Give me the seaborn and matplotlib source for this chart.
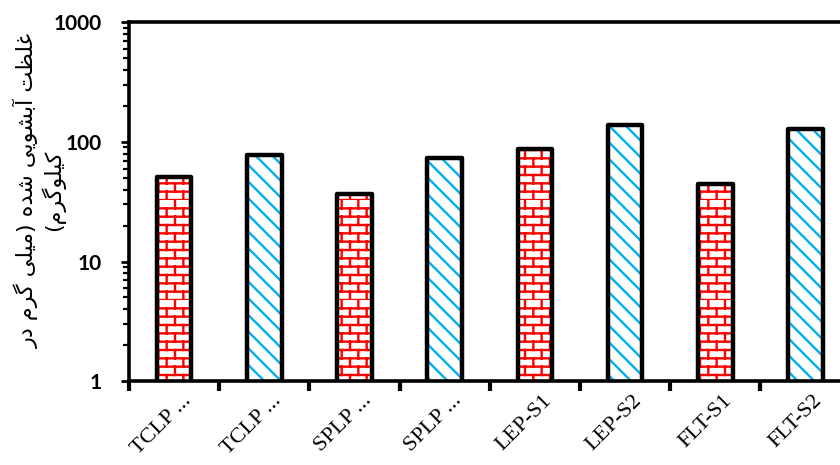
import numpy as np
import pandas as pd
import matplotlib
matplotlib.use("Agg")
import matplotlib.pyplot as plt
import matplotlib.hatch as mhatch
from matplotlib.path import Path
from matplotlib.transforms import ScaledTranslation
import seaborn as sns

# ---- data -------------------------------------------------------------
samples = ["TCLP ...", "TCLP ...", "SPLP ...", "SPLP ...",
           "LEP-S1", "LEP-S2", "FLT-S1", "FLT-S2"]
sample_ids = ["TCLP-1", "TCLP-2", "SPLP-1", "SPLP-2",
              "LEP-S1", "LEP-S2", "FLT-S1", "FLT-S2"]
concentration = [51, 78, 37, 74, 87, 139, 44.5, 128]
series = ["S1", "S2", "S1", "S2", "S1", "S2", "S1", "S2"]
y_ticks = [1, 10, 100, 1000]
y_label = "غلظت آبشویی شده (میلی گرم در\nکیلوگرم)"

# ---- brick hatch (rows of staggered bricks) ----------------------------
_orig_get_path = mhatch.get_path


def _brick_path(rows=12, cols=6):
    verts, codes = [], []
    h = 1.0 / rows
    w = 1.0 / cols
    for r in range(rows):
        y0 = r * h
        verts += [(0.0, y0), (1.0, y0)]
        codes += [Path.MOVETO, Path.LINETO]
        shift = 0.0 if r % 2 == 0 else w / 2
        for c in range(cols):
            x = shift + c * w
            verts += [(x, y0), (x, y0 + h)]
            codes += [Path.MOVETO, Path.LINETO]
    return Path(np.array(verts), np.array(codes, dtype=Path.code_type))


def _get_path(hatchpattern, density=6):
    if hatchpattern == "+":
        return _brick_path()
    return _orig_get_path(hatchpattern, density)


mhatch.get_path = _get_path


# ---- minimal Persian shaping for the axis title -----------------------
FORMS = {
    "ا": ("\uFE8D", "\uFE8E", None, None),
    "آ": ("\uFE81", "\uFE82", None, None),
    "ب": ("\uFE8F", "\uFE90", "\uFE91", "\uFE92"),
    "ت": ("\uFE95", "\uFE96", "\uFE97", "\uFE98"),
    "د": ("\uFEA9", "\uFEAA", None, None),
    "ر": ("\uFEAD", "\uFEAE", None, None),
    "ش": ("\uFEB5", "\uFEB6", "\uFEB7", "\uFEB8"),
    "ظ": ("\uFEC5", "\uFEC6", "\uFEC7", "\uFEC8"),
    "غ": ("\uFECD", "\uFECE", "\uFECF", "\uFED0"),
    "ل": ("\uFEDD", "\uFEDE", "\uFEDF", "\uFEE0"),
    "م": ("\uFEE1", "\uFEE2", "\uFEE3", "\uFEE4"),
    "ه": ("\uFEE9", "\uFEEA", "\uFEEB", "\uFEEC"),
    "و": ("\uFEED", "\uFEEE", None, None),
    "ک": ("\uFB8E", "\uFB8F", "\uFB90", "\uFB91"),
    "گ": ("\uFB92", "\uFB93", "\uFB94", "\uFB95"),
    "ی": ("\uFBFC", "\uFBFD", "\uFBFE", "\uFBFF"),
}
MIRROR = {"(": ")", ")": "("}


def shape_line(s):
    out = []
    for i, ch in enumerate(s):
        if ch not in FORMS:
            out.append(ch)
            continue
        iso, fin, ini, med = FORMS[ch]
        prev = s[i - 1] if i > 0 else ""
        nxt = s[i + 1] if i + 1 < len(s) else ""
        join_prev = prev in FORMS and FORMS[prev][2] is not None
        join_next = ini is not None and nxt in FORMS
        if join_prev and join_next:
            out.append(med)
        elif join_prev:
            out.append(fin)
        elif join_next:
            out.append(ini)
        else:
            out.append(iso)
    return "".join(MIRROR.get(c, c) for c in reversed(out))


def shape_rtl(text):
    return "\n".join(shape_line(line) for line in text.split("\n"))


# ---- figure -----------------------------------------------------------
sns.set_theme(style="ticks")
plt.rcParams["font.family"] = ["DejaVu Sans"]
plt.rcParams["hatch.linewidth"] = 1.7

fig = plt.figure(figsize=(8.4, 4.65), dpi=100)
ax = fig.add_axes([129 / 840, 84 / 465, 721.6 / 840, 358.5 / 465])

df = pd.DataFrame({"sample": sample_ids, "conc": concentration,
                   "series": series})

hatch_style = {"S1": ("+", "#FF0000"), "S2": ("\\\\", "#00B0F0")}

# hatched fill layer
sns.barplot(data=df, x="sample", y="conc", color="white", width=0.385,
            linewidth=0, saturation=1, log_scale=(False, True), ax=ax,
            zorder=2)
for patch, s in zip(ax.patches, series):
    h, c = hatch_style[s]
    patch.set_facecolor("white")
    patch.set_edgecolor(c)
    patch.set_linewidth(0)
    patch.set_hatch(h)
n_fill = len(ax.patches)

# black outline layer
sns.barplot(data=df, x="sample", y="conc", color="black", fill=False,
            width=0.385, linewidth=3.2, saturation=1, ax=ax, zorder=3)
for patch in ax.patches[n_fill:]:
    patch.set_edgecolor("black")
    patch.set_facecolor("none")
    patch.set_joinstyle("round")

ax.set_yscale("log")
ax.set_ylim(1, 1000)
ax.set_xlim(-0.5, len(samples) - 0.5)
ax.set_yticks(y_ticks)
ax.set_yticklabels([str(v) for v in y_ticks])
ax.set_xlabel("")
ax.set_ylabel("")

for sp in ax.spines.values():
    sp.set_visible(True)
    sp.set_linewidth(2.6)
    sp.set_color("black")
    sp.set_zorder(5)

ax.tick_params(axis="y", which="major", direction="out", length=6,
               width=2, color="black", pad=14)
ax.tick_params(axis="y", which="minor", direction="out", length=4,
               width=1.6, color="black")
for lab in ax.get_yticklabels():
    lab.set_fontfamily("Lato")
    lab.set_fontweight("bold")
    lab.set_fontsize(15)
    lab.set_color("black")

# category boundary ticks on the x axis
ax.set_xticks(np.arange(-0.5, len(samples), 1.0), minor=True)
ax.tick_params(axis="x", which="minor", direction="out", length=7,
               width=3, color="black")
ax.tick_params(axis="x", which="major", length=0, pad=12)
ax.set_xticks(range(len(samples)))
ax.set_xticklabels(samples, rotation=45, ha="right", va="center",
                   rotation_mode="anchor", fontfamily="Liberation Serif",
                   fontsize=16, color="black")
offset = ScaledTranslation(14 / 100, 0, fig.dpi_scale_trans)
for lab in ax.get_xticklabels():
    lab.set_transform(lab.get_transform() + offset)

fig.text(39 / 840, 1 - 190 / 465, shape_rtl(y_label), rotation=90,
         ha="center", va="center", multialignment="center",
         fontfamily="DejaVu Sans", fontsize=16, color="black",
         linespacing=1.1)

fig.savefig("out.png", dpi=100, facecolor="white")
